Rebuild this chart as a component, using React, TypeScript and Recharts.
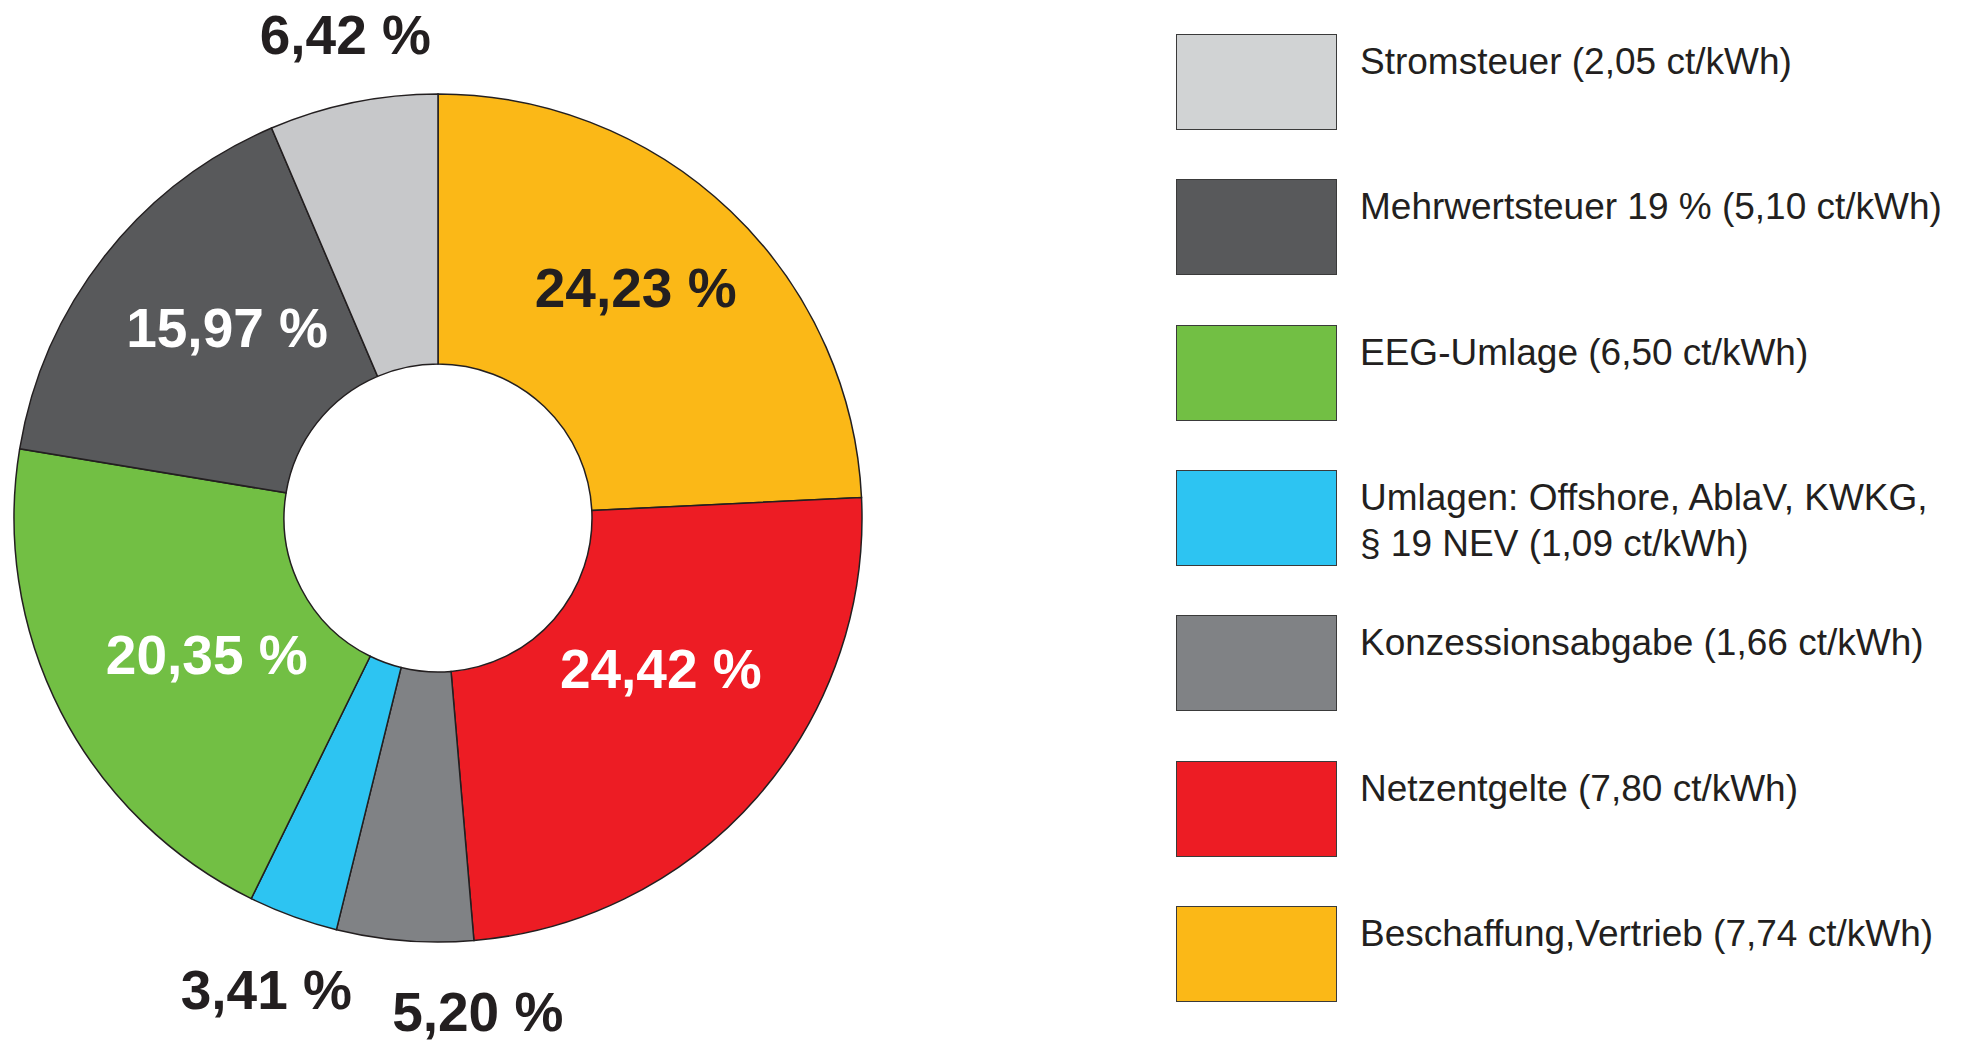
import React from "react";
import { PieChart, Pie, Cell, Legend } from "recharts";

// Slices clockwise from 12 o'clock
const categories = [
  "Beschaffung,Vertrieb",
  "Netzentgelte",
  "Konzessionsabgabe",
  "Umlagen: Offshore, AblaV, KWKG,\n§ 19 NEV",
  "EEG-Umlage",
  "Mehrwertsteuer 19 %",
  "Stromsteuer",
];
const shares = [24.23, 24.42, 5.2, 3.41, 20.35, 15.97, 6.42];
const centsPerKWh = ["7,74", "7,80", "1,66", "1,09", "6,50", "5,10", "2,05"];

const COLORS = ["#FBB817", "#ED1C24", "#808285", "#2DC4F2", "#72BF44", "#58595B", "#C7C8CA"];
const LEGEND_COLORS = ["#FBB817", "#ED1C24", "#808285", "#2DC4F2", "#72BF44", "#58595B", "#D1D3D4"];
const LABEL_COLORS = ["#231F20", "#FFFFFF", "#231F20", "#231F20", "#FFFFFF", "#FFFFFF", "#231F20"];
// label placement: [radius, angle nudge in degrees]
const LABEL_PLACE: [number, number][] = [
  [303, 2.9],
  [269, 7.1],
  [496, 9.1],
  [502, 0],
  [269, 3.5],
  [284, -3.9],
  [492, -0.7],
];

const data = categories.map((name, i) => ({
  name,
  value: shares[i],
  ct: centsPerKWh[i],
}));

const RAD = Math.PI / 180;
const FONT = "'Liberation Sans', Arial, Helvetica, sans-serif";

const renderLabel = (props: any) => {
  const { cx, cy, midAngle, index, value } = props;
  const [r, da] = LABEL_PLACE[index];
  const a = (midAngle + da) * RAD;
  const x = cx + r * Math.cos(-a);
  const y = cy + r * Math.sin(-a);
  return (
    <text
      x={x}
      y={y}
      fill={LABEL_COLORS[index]}
      textAnchor="middle"
      dominantBaseline="central"
      fontFamily={FONT}
      fontWeight="bold"
      fontSize={55}
    >
      {Number(value).toFixed(2).replace(".", ",") + " %"}
    </text>
  );
};

const renderLegend = () => {
  const items = data.map((d, i) => ({ ...d, color: LEGEND_COLORS[i] })).reverse();
  return (
    <div style={{ position: "relative", width: 780, height: 1010 }}>
      {items.map((it, i) => (
        <div
          key={it.name}
          style={{ position: "absolute", left: 0, top: i * 145.3, width: 780, height: 100 }}
        >
          <div
            style={{
              position: "absolute",
              left: 0,
              top: 0,
              width: 159,
              height: 94,
              background: it.color,
              border: "1.5px solid #3A3A3A",
            }}
          />
          <div
            style={{
              position: "absolute",
              left: 184,
              top: 5,
              fontFamily: FONT,
              fontSize: 37,
              lineHeight: "46px",
              color: "#231F20",
              whiteSpace: "pre-line",
              textAlign: "left",
            }}
          >
            {`${it.name} (${it.ct} ct/kWh)`}
          </div>
        </div>
      ))}
    </div>
  );
};

export default function App() {
  return (
    <div style={{ position: "absolute", left: 0, top: 0, width: 1964, height: 1044, background: "#fff" }}>
      <PieChart width={1964} height={1044} margin={{ top: 0, right: 0, bottom: 0, left: 0 }}>
        <Pie
          data={data}
          dataKey="value"
          nameKey="name"
          cx={438}
          cy={518}
          innerRadius={154}
          outerRadius={424}
          startAngle={90}
          endAngle={-270}
          stroke="#231F20"
          strokeWidth={1.5}
          label={renderLabel}
          labelLine={false}
          isAnimationActive={false}
        >
          {data.map((d, i) => (
            <Cell key={d.name} fill={COLORS[i]} />
          ))}
        </Pie>
        <Legend
          content={renderLegend}
          layout="vertical"
          verticalAlign="middle"
          align="right"
          wrapperStyle={{ left: 1176, top: 34, width: 780, right: "auto" }}
        />
      </PieChart>
    </div>
  );
}
